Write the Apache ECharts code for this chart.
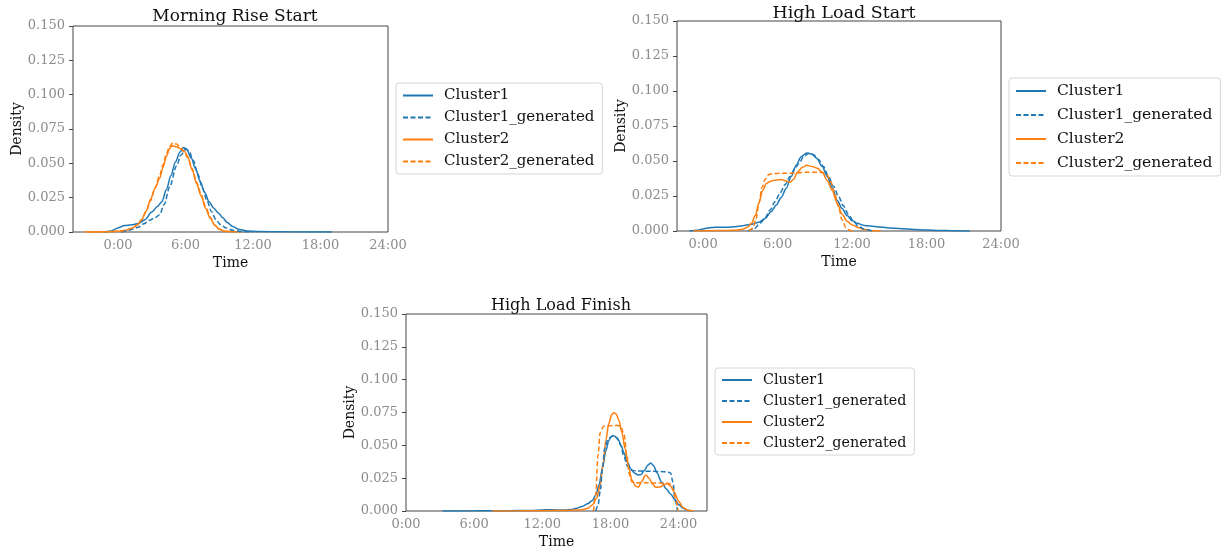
<!DOCTYPE html>
<html>
<head>
<meta charset="utf-8">
<script src="https://cdn.jsdelivr.net/npm/echarts@6/dist/echarts.min.js"></script>
<style>
html,body{margin:0;padding:0;background:#fff;}
#chart{width:1222px;height:552px;}
</style>
</head>
<body>
<div id="chart"></div>
<script>
// ---------- data ----------
const panelTitles = ['Morning Rise Start', 'High Load Start', 'High Load Finish'];
const seriesNames = ['Cluster1', 'Cluster1_generated', 'Cluster2', 'Cluster2_generated'];
const timeTicks = [0, 6, 12, 18, 24];

// Morning Rise Start  [hour, density]
const morningCluster1 = [[-1.2,0],[-0.6,0.0008],[0,0.003],[0.6,0.0048],[1.2,0.0052],[1.8,0.0062],[2.4,0.009],[3,0.0145],[3.5,0.0185],[3.9,0.022],[4.3,0.031],[4.7,0.041],[5.1,0.051],[5.5,0.058],[5.8,0.0615],[6.1,0.0605],[6.5,0.054],[6.9,0.046],[7.3,0.037],[7.7,0.029],[8.1,0.022],[8.5,0.0175],[8.9,0.014],[9.3,0.0105],[9.7,0.007],[10.2,0.004],[10.8,0.0018],[11.5,0.0008],[12.5,0.0003],[15,0.0001],[19,0]];
const morningCluster1Gen = [[0.3,0],[0.8,0.0008],[1.3,0.002],[1.8,0.0035],[2.3,0.006],[2.8,0.0085],[3.3,0.0105],[3.7,0.0125],[4.1,0.02],[4.6,0.033],[5.2,0.048],[5.6,0.056],[6.0,0.0602],[6.3,0.059],[6.7,0.052],[7.1,0.042],[7.5,0.032],[7.9,0.023],[8.3,0.015],[8.7,0.009],[9.1,0.0055],[9.6,0.003],[10.2,0.0012],[11,0.0003],[12,0]];
const morningCluster2 = [[-3,0],[-1,0.0001],[0,0.0005],[0.8,0.0015],[1.3,0.003],[1.7,0.005],[2.1,0.009],[2.5,0.015],[2.9,0.024],[3.3,0.032],[3.7,0.039],[4.0,0.047],[4.3,0.055],[4.6,0.061],[4.8,0.0628],[5.2,0.062],[5.6,0.0605],[5.9,0.059],[6.2,0.055],[6.6,0.045],[7.0,0.035],[7.4,0.026],[7.8,0.017],[8.2,0.01],[8.6,0.005],[9.0,0.002],[9.5,0.0006],[10.2,0.0001],[11,0]];
const morningCluster2Gen = [[-2.5,0],[-0.5,0.0002],[0.5,0.001],[1.2,0.0025],[1.7,0.005],[2.1,0.009],[2.5,0.015],[2.9,0.023],[3.3,0.032],[3.7,0.041],[4.0,0.049],[4.3,0.057],[4.6,0.0625],[4.9,0.065],[5.2,0.064],[5.6,0.061],[5.9,0.058],[6.2,0.054],[6.6,0.046],[7.0,0.036],[7.4,0.027],[7.8,0.018],[8.2,0.011],[8.6,0.005],[9.0,0.002],[9.5,0.0005],[10.2,0]];

// High Load Start
const startCluster1 = [[-1.1,0],[-0.5,0.0005],[0,0.0015],[0.5,0.0024],[1,0.0027],[1.5,0.0027],[2,0.0027],[2.5,0.003],[3,0.0035],[3.5,0.0042],[4,0.005],[4.5,0.0062],[5,0.009],[5.5,0.014],[5.9,0.0186],[6.3,0.024],[6.7,0.0305],[7.1,0.039],[7.5,0.047],[7.9,0.053],[8.35,0.0558],[8.75,0.055],[9.15,0.052],[9.6,0.046],[10,0.039],[10.4,0.031],[10.8,0.022],[11.2,0.016],[11.6,0.011],[12,0.0075],[12.4,0.0055],[13,0.004],[14,0.003],[15,0.0022],[16,0.0016],[17,0.0011],[18,0.0007],[19,0.0004],[20,0.0002],[21.5,0]];
const startCluster1Gen = [[3.6,0],[4.1,0.0015],[4.6,0.0055],[5.0,0.0095],[5.4,0.015],[5.8,0.021],[6.2,0.027],[6.6,0.033],[7.0,0.039],[7.4,0.0445],[7.7,0.048],[8.1,0.053],[8.5,0.0555],[8.9,0.0545],[9.3,0.051],[9.7,0.046],[10.1,0.039],[10.5,0.032],[10.9,0.025],[11.3,0.018],[11.7,0.012],[12.1,0.007],[12.5,0.0035],[13,0.0012],[13.6,0]];
const startCluster2 = [[-0.8,0],[0,0.0002],[1,0.0003],[2,0.0004],[2.7,0.0006],[3.2,0.0012],[3.6,0.0028],[3.9,0.0055],[4.2,0.011],[4.5,0.02],[4.8,0.029],[5.1,0.034],[5.5,0.0358],[5.9,0.0365],[6.3,0.0367],[6.7,0.0358],[7.0,0.0348],[7.3,0.037],[7.6,0.042],[8.0,0.0455],[8.35,0.047],[8.8,0.046],[9.2,0.0448],[9.6,0.042],[10.0,0.036],[10.4,0.029],[10.8,0.02],[11.2,0.012],[11.6,0.007],[12.0,0.0045],[12.5,0.0025],[13,0.001],[13.7,0.0002],[14.3,0]];
const startCluster2Gen = [[3.7,0],[4.0,0.002],[4.25,0.008],[4.5,0.02],[4.75,0.031],[5.0,0.037],[5.3,0.0403],[5.7,0.041],[6.3,0.0412],[7.0,0.0412],[7.6,0.0415],[8.3,0.042],[9.0,0.042],[9.6,0.0418],[10.0,0.04],[10.3,0.035],[10.6,0.027],[10.9,0.0175],[11.2,0.008],[11.5,0.0025],[11.8,0.0005],[12.1,0]];

// High Load Finish
const finishCluster1 = [[3.2,0],[6,0.0001],[9,0.0002],[11,0.0004],[12,0.0008],[12.6,0.001],[13.3,0.0008],[14,0.0008],[14.5,0.0012],[15,0.002],[15.5,0.0035],[16,0.0055],[16.4,0.008],[16.7,0.012],[17.0,0.02],[17.3,0.033],[17.6,0.046],[17.85,0.0535],[18.05,0.0565],[18.25,0.0573],[18.45,0.0566],[18.7,0.054],[18.95,0.0495],[19.2,0.044],[19.5,0.037],[19.8,0.032],[20.1,0.029],[20.4,0.0275],[20.7,0.0278],[21.0,0.031],[21.3,0.035],[21.55,0.0365],[21.8,0.0345],[22.1,0.029],[22.5,0.022],[22.9,0.017],[23.3,0.0128],[23.7,0.0085],[24.0,0.005],[24.4,0.002],[24.8,0.0005],[25.2,0]];
const finishCluster1Gen = [[16.7,0],[16.9,0.004],[17.1,0.015],[17.3,0.033],[17.5,0.048],[17.8,0.055],[18.2,0.0573],[18.6,0.0555],[18.9,0.05],[19.2,0.041],[19.5,0.034],[19.8,0.031],[20.3,0.0305],[21,0.0303],[21.7,0.0302],[22.4,0.030],[23.0,0.0298],[23.3,0.029],[23.5,0.022],[23.7,0.008],[23.9,0]];
const finishCluster2 = [[7.6,0],[10,0.0001],[12,0.0002],[14,0.0004],[15,0.0007],[15.5,0.001],[16,0.002],[16.4,0.0045],[16.8,0.01],[17.1,0.02],[17.35,0.036],[17.6,0.054],[17.85,0.0665],[18.1,0.0732],[18.3,0.0748],[18.5,0.0738],[18.75,0.069],[19.0,0.06],[19.3,0.047],[19.6,0.033],[19.9,0.0235],[20.2,0.019],[20.45,0.018],[20.75,0.0225],[21.1,0.0275],[21.4,0.025],[21.7,0.0205],[22.0,0.018],[22.3,0.0182],[22.7,0.0198],[23.0,0.021],[23.3,0.019],[23.6,0.0145],[24.0,0.0075],[24.4,0.0025],[24.8,0.0006],[25.3,0]];
const finishCluster2Gen = [[16.5,0],[16.7,0.012],[16.9,0.042],[17.1,0.06],[17.4,0.0645],[17.9,0.065],[18.5,0.0652],[18.9,0.0645],[19.2,0.058],[19.45,0.042],[19.65,0.028],[19.9,0.022],[20.4,0.0215],[21.2,0.0215],[22.0,0.0213],[22.8,0.0212],[23.2,0.021],[23.5,0.017],[23.75,0.008],[23.95,0]];

const panelData = [
  [morningCluster1, morningCluster1Gen, morningCluster2, morningCluster2Gen],
  [startCluster1, startCluster1Gen, startCluster2, startCluster2Gen],
  [finishCluster1, finishCluster1Gen, finishCluster2, finishCluster2Gen]
];

// ---------- layout / style ----------
const FONT = 'DejaVu Serif';
const BLUE = '#1f77b4', ORANGE = '#ff7f0e';
const seriesColors = [BLUE, BLUE, ORANGE, ORANGE];
const seriesDashed = [false, true, false, true];
const grids = [
  {left: 73, top: 26, width: 315, height: 206},
  {left: 677, top: 21, width: 324, height: 210},
  {left: 406, top: 314, width: 301, height: 197}
];
const xRanges = [[-4, 24], [-2.1, 24], [0, 26.5]];
const titlePos = [{x: 230, y: 3, size: 17}, {x: 839, y: -1, size: 17.5}, {x: 556, y: 293, size: 16}];
const legendPos = [
  {left: 396, top: 83, font: 15, gap: 7},
  {left: 1009, top: 78, font: 15.5, gap: 8},
  {left: 715, top: 368, font: 14.3, gap: 7}
];

const option = {
  animation: false,
  backgroundColor: '#fff',
  textStyle: {fontFamily: FONT},
  title: panelTitles.map((t, i) => ({
    text: t, left: titlePos[i].x, top: titlePos[i].y, textAlign: 'center',
    textStyle: {fontFamily: FONT, fontSize: titlePos[i].size, fontWeight: 'normal', color: '#111'}
  })),
  grid: grids.map(g => Object.assign({show: true, borderColor: '#444', borderWidth: 1, backgroundColor: 'transparent'}, g)),
  legend: legendPos.map(l => ({
    orient: 'vertical', left: l.left, top: l.top,
    data: seriesNames,
    itemWidth: 30, itemHeight: 14, itemGap: l.gap,
    padding: [5, 8, 5, 6],
    itemStyle: {opacity: 0},
    borderColor: '#d5d5d5', borderWidth: 1, borderRadius: 3,
    textStyle: {fontFamily: FONT, fontSize: l.font, color: '#111', padding: [0, 0, 0, 6]}
  })),
  xAxis: grids.map((g, i) => ({
    type: 'value', gridIndex: i, min: xRanges[i][0], max: xRanges[i][1],
    name: 'Time', nameLocation: 'middle', nameGap: 24,
    nameTextStyle: {fontFamily: FONT, fontSize: 14, color: '#111'},
    axisLine: {show: false, onZero: false},
    splitLine: {show: false},
    axisTick: {show: false},
    axisLabel: {customValues: timeTicks, fontFamily: FONT, fontSize: 13, color: '#8c8c8c', margin: 7,
      formatter: v => Math.round(v) + ':00'}
  })),
  yAxis: grids.map((g, i) => ({
    type: 'value', gridIndex: i, min: 0, max: 0.15, interval: 0.025,
    name: 'Density', nameLocation: 'middle', nameGap: 47,
    nameTextStyle: {fontFamily: FONT, fontSize: 14, color: '#111'},
    axisLine: {show: false, onZero: false},
    splitLine: {show: false},
    axisTick: {show: true, length: 4, lineStyle: {color: '#444'}},
    axisLabel: {fontFamily: FONT, fontSize: 13, color: '#8c8c8c', margin: 8,
      formatter: v => v.toFixed(3)}
  })),
  series: []
};

panelData.forEach((sets, p) => {
  sets.forEach((d, k) => {
    option.series.push({
      type: 'line', name: seriesNames[k], xAxisIndex: p, yAxisIndex: p,
      data: d, symbol: 'none', smooth: 0.3, smoothMonotone: 'x',
      color: seriesColors[k],
      lineStyle: {width: 1.5, color: seriesColors[k], type: seriesDashed[k] ? [5, 2.5] : 'solid'},
      z: k % 2 === 0 ? 3 : 4
    });
  });
});

const chart = echarts.init(document.getElementById('chart'), null, {renderer: 'canvas'});
chart.setOption(option);
</script>
</body>
</html>
